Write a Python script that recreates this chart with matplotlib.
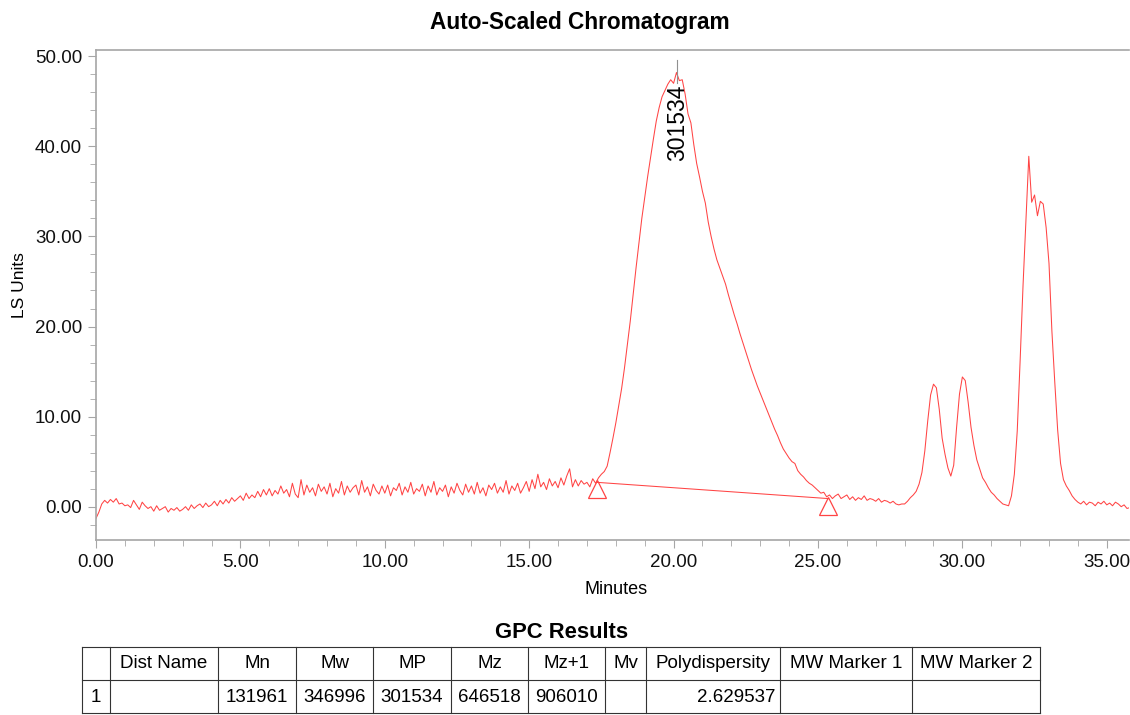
import matplotlib
matplotlib.use('Agg')
import matplotlib.pyplot as plt
import numpy as np
from matplotlib.ticker import MultipleLocator, FormatStrFormatter

plt.rcParams['font.family'] = ['Liberation Sans', 'DejaVu Sans']

ls_signal = [
    -1.3, -0.6, 0.3, 0.7, 0.4, 0.8, 0.5, 0.9, 0.3, 0.4,
    0.1, 0.2, -0.1, 0.7, 0.2, -0.3, 0.5, 0.1, -0.2, 0.0,
    -0.5, 0.1, -0.4, -0.2, 0.0, -0.6, -0.2, -0.4, -0.1, -0.5,
    -0.3, 0.0, -0.4, 0.2, -0.2, 0.1, 0.3, -0.1, 0.4, 0.0,
    0.2, 0.6, 0.1, 0.7, 0.3, 0.8, 0.4, 1.0, 0.6, 0.9,
    1.2, 0.7, 1.5, 0.9, 1.3, 1.0, 1.7, 1.1, 1.9, 1.3,
    2.0, 1.2, 1.8, 1.4, 2.3, 1.5, 1.9, 1.1, 2.6, 1.4,
    1.0, 3.0, 1.3, 2.4, 1.6, 2.1, 1.2, 2.5, 1.7, 2.2,
    1.4, 2.6, 1.1, 2.0, 1.5, 2.8, 1.3, 2.3, 1.6, 2.1,
    2.4, 1.3, 2.9, 1.6, 2.2, 1.2, 2.5, 1.8, 1.4, 2.3,
    1.5, 2.4, 1.2, 2.1, 1.8, 2.6, 1.3, 2.2, 1.6, 2.7,
    1.4, 2.0, 1.7, 2.5, 1.2, 2.3, 1.6, 2.8, 1.3, 2.1,
    1.7, 2.4, 1.1, 2.2, 1.5, 2.6, 1.8, 1.3, 2.5, 1.6,
    2.3, 1.4, 2.7, 1.5, 2.1, 1.2, 2.4, 1.9, 2.6, 1.5,
    2.2, 1.6, 2.9, 1.4, 2.3, 1.8, 2.6, 1.5, 2.1, 2.8,
    1.7, 3.0, 2.0, 3.6, 2.2, 2.7, 1.9, 3.1, 2.3, 2.8,
    2.1, 3.2, 2.4, 3.4, 4.2, 2.2, 3.0, 2.3, 2.9, 2.5,
    2.7, 2.2, 3.1, 2.6, 3.2, 3.6, 3.9, 4.5, 6.0, 7.6,
    9.3, 11.2, 13.1, 15.4, 18.0, 20.6, 23.6, 26.5, 29.3, 32.0,
    34.3, 36.6, 38.7, 40.8, 42.8, 44.3, 45.5, 46.2, 46.9, 47.4,
    47.0, 48.2, 47.3, 47.4, 45.8, 43.6, 42.6, 40.2, 38.1, 36.6,
    35.0, 33.7, 31.6, 30.0, 28.6, 27.4, 26.5, 25.6, 24.7, 23.5,
    22.4, 21.3, 20.3, 19.2, 18.2, 17.2, 16.2, 15.2, 14.3, 13.4,
    12.6, 11.8, 11.0, 10.2, 9.4, 8.6, 7.9, 7.1, 6.4, 5.9,
    5.4, 5.0, 4.8, 4.0, 3.6, 3.3, 2.9, 2.6, 2.4, 2.1,
    1.8, 1.5, 1.6, 1.1, 1.3, 0.9, 1.2, 1.4, 0.9, 1.1,
    1.3, 0.8, 1.1, 0.7, 1.0, 0.8, 1.2, 0.7, 0.9, 0.8,
    0.6, 0.9, 0.5, 0.7, 0.6, 0.4, 0.6, 0.3, 0.2, 0.3,
    0.3, 0.6, 1.0, 1.3, 1.7, 2.5, 3.8, 6.2, 9.5, 12.4,
    13.6, 13.2, 10.8, 7.6, 5.8, 4.3, 3.4, 4.6, 8.8, 12.5,
    14.4, 14.0, 11.6, 8.8, 6.8, 5.2, 4.2, 3.2, 2.7, 2.1,
    1.6, 1.3, 0.9, 0.6, 0.3, 0.2, 0.1, 1.2, 3.6, 8.4,
    16.2, 24.5, 31.8, 38.9, 33.8, 34.6, 32.3, 33.9, 33.6, 31.0,
    27.0, 19.5, 13.8, 8.5, 4.8, 3.0, 2.3, 1.8, 1.2, 0.8,
    0.5, 0.3, 0.6, 0.2, 0.5, 0.4, 0.1, 0.5, 0.3, 0.6,
    0.2, 0.4, 0.1, 0.5, 0.3, 0.0, 0.2, -0.2, -0.1,
]
sample_step = 0.1
minutes = np.arange(len(ls_signal)) * sample_step

# integration baseline and its start/end markers
baseline_t = [17.35, 25.35]
baseline_y = [2.7, 0.9]
marker_y = [2.0, 0.1]

peak_t = 20.13
peak_top = 47.0
peak_label = '301534'

table_title = 'GPC Results'
table_header = ['', 'Dist Name', 'Mn', 'Mw', 'MP', 'Mz', 'Mz+1', 'Mv',
                'Polydispersity', 'MW Marker 1', 'MW Marker 2']
table_row = ['1', '', '131961', '346996', '301534', '646518', '906010', '',
             '2.629537', '', '']

RED = '#ff4444'
GRAY = '#a6a6a6'

fig = plt.figure(figsize=(11.3, 7.15), dpi=100)
W, H = 1130, 715
ax = fig.add_axes([96 / W, 1 - 540 / H, (1129 - 96) / W, (540 - 50) / H])

ax.plot(minutes, ls_signal, color=RED, lw=0.75)
ax.plot(baseline_t, baseline_y, color=RED, lw=0.75)
ax.plot(baseline_t, marker_y, ls='none', marker='^', ms=13,
        mfc='none', mec=RED, mew=0.9)

# peak annotation
ax.plot([peak_t, peak_t], [peak_top, 49.6], color='#909090', lw=0.8)
ax.text(peak_t, peak_top - 0.1, peak_label, rotation=90, ha='center', va='top',
        fontsize=16.5, color='black')

ax.set_xlim(0, 35.77)
ax.set_ylim(-3.7, 50.7)
ax.xaxis.set_major_locator(MultipleLocator(5))
ax.xaxis.set_minor_locator(MultipleLocator(1))
ax.yaxis.set_major_locator(MultipleLocator(10))
ax.yaxis.set_minor_locator(MultipleLocator(2))
ax.xaxis.set_major_formatter(FormatStrFormatter('%.2f'))
ax.yaxis.set_major_formatter(FormatStrFormatter('%.2f'))
ax.tick_params(which='both', direction='out', color=GRAY, labelsize=13.5,
               labelcolor='#111111')
ax.tick_params(which='major', length=6, pad=4)
ax.tick_params(which='minor', length=4)
for side in ['left', 'bottom', 'top']:
    ax.spines[side].set_color(GRAY)
    ax.spines[side].set_linewidth(1.2)
ax.spines['right'].set_visible(False)

fig.text(580 / W, 1 - 22 / H, 'Auto-Scaled Chromatogram', ha='center',
         va='center', fontsize=16.3, fontweight='bold')
fig.text(20 / W, 1 - 285 / H, 'LS Units', rotation=90, ha='center',
         va='center', fontsize=12.5)
fig.text(616 / W, 1 - 590 / H, 'Minutes', ha='center', va='center', fontsize=13)

# results table
tax = fig.add_axes([0, 0, 1, 1])
tax.set_xlim(0, W)
tax.set_ylim(H, 0)
tax.axis('off')
tax.patch.set_alpha(0)
col_edges = [82, 110, 218, 296, 373, 451, 528, 605, 646, 780, 912, 1040]
row_edges = [647, 680, 713]
tax.text(562, 633, table_title, ha='center', va='center', fontsize=15.8,
         fontweight='bold')
for yy in row_edges:
    tax.plot([col_edges[0], col_edges[-1]], [yy, yy], color='#333333', lw=0.8)
for xx in col_edges:
    tax.plot([xx, xx], [row_edges[0], row_edges[-1]], color='#333333', lw=0.8)
for i, txt in enumerate(table_header):
    cx = (col_edges[i] + col_edges[i + 1]) / 2
    tax.text(cx, 664, txt, ha='center', va='center', fontsize=13.5)
for i, txt in enumerate(table_row):
    if txt == '2.629537':
        tax.text(col_edges[i + 1] - 4, 697, txt, ha='right', va='center',
                 fontsize=13.5)
    else:
        cx = (col_edges[i] + col_edges[i + 1]) / 2
        tax.text(cx, 697, txt, ha='center', va='center', fontsize=13.5)

fig.savefig('out.png', dpi=100)
